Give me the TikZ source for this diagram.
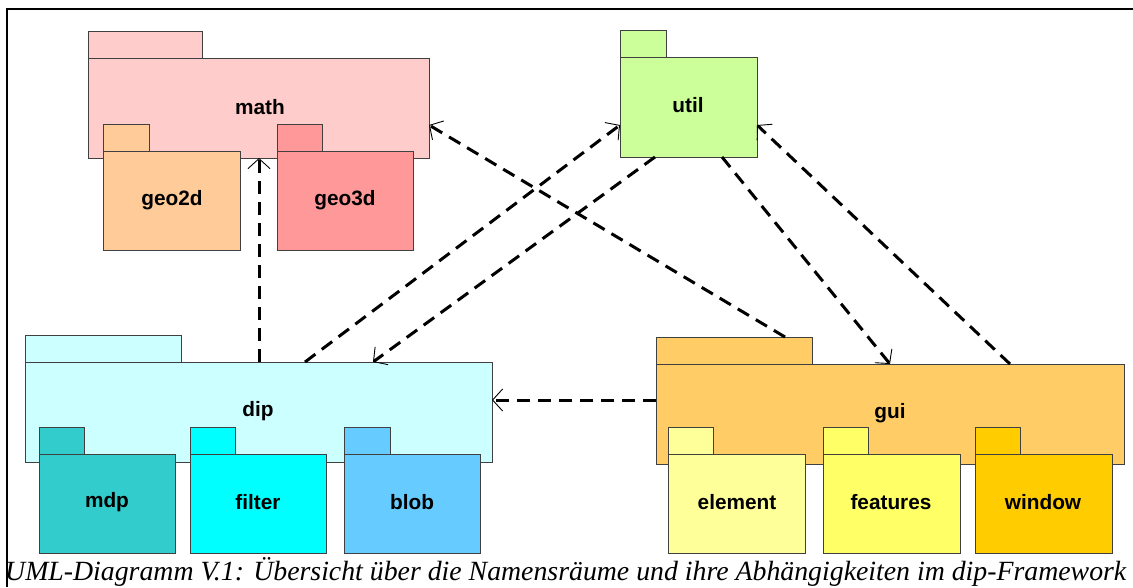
\documentclass[tikz,border=0pt]{standalone}
\usepackage{fontspec}
\setmainfont{Liberation Serif}
\newfontfamily\lblfont{Liberation Sans}
\usetikzlibrary{arrows.meta,calc}
\definecolor{cmath}{HTML}{FFCCCC}
\definecolor{cgeoa}{HTML}{FFCC99}
\definecolor{cgeob}{HTML}{FF9999}
\definecolor{cutil}{HTML}{CCFF99}
\definecolor{cdip}{HTML}{CCFFFF}
\definecolor{cmdp}{HTML}{33CCCC}
\definecolor{cfilter}{HTML}{00FFFF}
\definecolor{cblob}{HTML}{66CCFF}
\definecolor{cgui}{HTML}{FFCC66}
\definecolor{celement}{HTML}{FFFF99}
\definecolor{cfeatures}{HTML}{FFFF66}
\definecolor{cwindow}{HTML}{FFCC00}
\tikzset{
  pkgbox/.style={draw=black!75, line width=0.9pt, inner sep=0pt, outer sep=0pt, anchor=north west},
  pkglabel/.style={font=\lblfont\bfseries\fontsize{20.8}{24}\selectfont, text=black, inner sep=0pt},
  dep/.style={draw=black, line width=3pt, dash pattern=on 13pt off 8pt,
    -{Straight Barb[length=10pt, width=22pt, line width=0.9pt]}}
}
\begin{document}
\begin{tikzpicture}[x=1pt, y=-1pt]
\useasboundingbox (0,0) rectangle (1133,587);
% frame
\draw[line width=1.4pt] (7,587) -- (7,9) -- (1133,9);

% math
\node[pkgbox, fill=cmath, minimum width=114, minimum height=27] (mathtab) at (88,31) {};
\node[pkgbox, fill=cmath, minimum width=341, minimum height=100] (math) at (88,58) {};
\node[pkglabel] (mathlbl) at (260,107) {math};
\node[pkgbox, fill=cgeoa, minimum width=46, minimum height=27] (geoatab) at (103,124) {};
\node[pkgbox, fill=cgeoa, minimum width=137, minimum height=99] (geoa) at (103,151) {};
\node[pkglabel] (geoalbl) at (172,200) {geo2d};
\node[pkgbox, fill=cgeob, minimum width=45, minimum height=27] (geobtab) at (277,124) {};
\node[pkgbox, fill=cgeob, minimum width=136, minimum height=99] (geob) at (277,151) {};
\node[pkglabel] (geoblbl) at (345,200) {geo3d};

% util
\node[pkgbox, fill=cutil, minimum width=46, minimum height=27] (utiltab) at (620,30) {};
\node[pkgbox, fill=cutil, minimum width=137, minimum height=100] (util) at (620,57) {};
\node[pkglabel] (utillbl) at (688,105) {util};

% dip
\node[pkgbox, fill=cdip, minimum width=156, minimum height=27] (diptab) at (25,335) {};
\node[pkgbox, fill=cdip, minimum width=467, minimum height=100] (dip) at (25,362) {};
\node[pkglabel] (diplbl) at (258,411) {dip};
\node[pkgbox, fill=cmdp, minimum width=45, minimum height=27] (mdptab) at (39,427) {};
\node[pkgbox, fill=cmdp, minimum width=136, minimum height=99] (mdp) at (39,454) {};
\node[pkglabel] (mdplbl) at (107,502) {mdp};
\node[pkgbox, fill=cfilter, minimum width=45, minimum height=27] (filtertab) at (190,427) {};
\node[pkgbox, fill=cfilter, minimum width=136, minimum height=99] (filter) at (190,454) {};
\node[pkglabel] (filterlbl) at (258,502) {filter};
\node[pkgbox, fill=cblob, minimum width=46, minimum height=27] (blobtab) at (344,427) {};
\node[pkgbox, fill=cblob, minimum width=136, minimum height=99] (blob) at (344,454) {};
\node[pkglabel] (bloblbl) at (412,502) {blob};

% gui
\node[pkgbox, fill=cgui, minimum width=156, minimum height=27] (guitab) at (656,337) {};
\node[pkgbox, fill=cgui, minimum width=468, minimum height=100] (gui) at (656,364) {};
\node[pkglabel] (guilbl) at (890,413) {gui};
\node[pkgbox, fill=celement, minimum width=45, minimum height=27] (elementtab) at (668,427) {};
\node[pkgbox, fill=celement, minimum width=137, minimum height=99] (element) at (668,454) {};
\node[pkglabel] (elementlbl) at (737,502) {element};
\node[pkgbox, fill=cfeatures, minimum width=45, minimum height=27] (featurestab) at (823,427) {};
\node[pkgbox, fill=cfeatures, minimum width=137, minimum height=99] (features) at (823,454) {};
\node[pkglabel] (featureslbl) at (891,502) {features};
\node[pkgbox, fill=cwindow, minimum width=45, minimum height=27] (windowtab) at (975,427) {};
\node[pkgbox, fill=cwindow, minimum width=137, minimum height=99] (window) at (975,454) {};
\node[pkglabel] (windowlbl) at (1043,502) {window};

% dependencies
\draw[dep] ([xshift=234pt]dip.north west) -- ([xshift=171pt]math.south west);
\draw[dep] ([xshift=280pt]dip.north west) -- ([yshift=-68pt]util.north west);
\draw[dep] ([xshift=35pt]util.south west) -- ([xshift=348pt]dip.north west);
\draw[dep] ([xshift=129pt]guitab.north west) -- ([yshift=-67pt]math.north east);
\draw[dep] ([xshift=102pt]util.south west) -- ([xshift=234pt]gui.north west);
\draw[dep] ([xshift=354pt]gui.north west) -- ([yshift=-68pt]util.north east);
\draw[dep] ([yshift=-36pt]gui.north west) -- ([yshift=-38pt]dip.north east);

% caption
\node[anchor=base west, inner sep=0pt, font=\itshape\fontsize{27.8}{30}\selectfont] (caption) at (5,580)
  {UML-Diagramm V.1: Übersicht über die Namensräume und ihre Abhängigkeiten im dip-Framework};
\end{tikzpicture}
\end{document}
